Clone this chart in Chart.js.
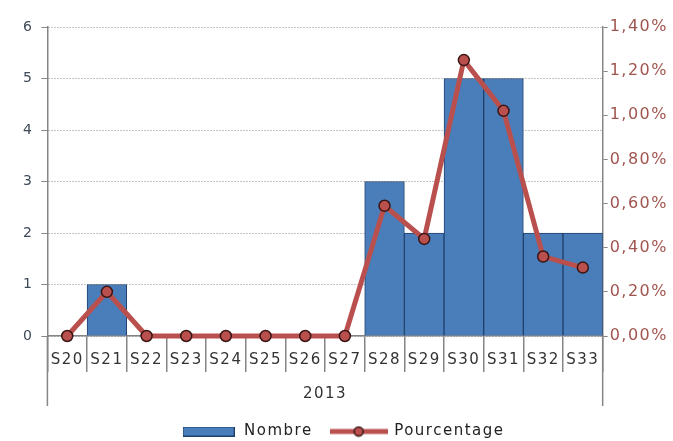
<!DOCTYPE html>
<html>
<head>
<meta charset="utf-8">
<script src="https://cdn.jsdelivr.net/npm/chart.js@4"></script>
<style>
    html, body { margin: 0; padding: 0; background: #fff; }
    #wrap { width: 673px; height: 441px; }
</style>
</head>
<body>
<div id="wrap"><canvas id="weekChart" width="673" height="441"></canvas></div>
<script>
// -------------------- Data --------------------
const weeks = ["S20","S21","S22","S23","S24","S25","S26","S27","S28","S29","S30","S31","S32","S33"];
const nombre = [0, 1, 0, 0, 0, 0, 0, 0, 3, 2, 5, 5, 2, 2];
const pourcentage = [0, 0.20, 0, 0, 0, 0, 0, 0, 0.59, 0.44, 1.25, 1.02, 0.36, 0.31];
const yearLabel = "2013";

// -------------------- Colors --------------------
const barFill = "#4a7ebb";
const barEdge = "#1f416d";
const lineRed = "#b9504d";
const pointEdge = "#3a1515";
const axisGrey = "#858585";
const font = "DejaVu Sans";

// -------------------- Legend swatches --------------------
function barSwatch() {
    const c = document.createElement("canvas");
    c.width = 52; c.height = 10;
    const g = c.getContext("2d");
    g.fillStyle = barFill;
    g.fillRect(0, 0, 52, 10);
    g.strokeStyle = barEdge;
    g.lineWidth = 1;
    g.strokeRect(0.5, 0.5, 51, 9);
    return c;
}

function lineSwatch() {
    const c = document.createElement("canvas");
    c.width = 58; c.height = 12;
    const g = c.getContext("2d");
    g.strokeStyle = lineRed;
    g.lineWidth = 5;
    g.beginPath(); g.moveTo(0, 6); g.lineTo(58, 6); g.stroke();
    g.fillStyle = lineRed;
    g.strokeStyle = pointEdge;
    g.lineWidth = 1.5;
    g.beginPath(); g.arc(29, 6, 4.5, 0, Math.PI * 2); g.fill(); g.stroke();
    return c;
}
const swatches = [barSwatch(), lineSwatch()];

// -------------------- Plugins --------------------
// wider letter spacing on every text drawn into the canvas
const spacing = {
    id: "spacing",
    beforeUpdate(chart) { chart.ctx.letterSpacing = "1.5px"; },
    beforeDraw(chart) { chart.ctx.letterSpacing = "1.5px"; }
};

// left/right axis lines carried down past the category labels
const axisTails = {
    id: "axisTails",
    afterDraw(chart) {
        const {ctx, chartArea, scales} = chart;
        const bottom = scales.x.bottom;
        ctx.save();
        ctx.strokeStyle = axisGrey;
        ctx.lineWidth = 1.5;
        [chartArea.left, chartArea.right].forEach(x => {
            ctx.beginPath();
            ctx.moveTo(x, chartArea.bottom);
            ctx.lineTo(x, bottom);
            ctx.stroke();
        });
        ctx.restore();
    }
};

// -------------------- Chart --------------------
const ctx = document.getElementById("weekChart").getContext("2d");
new Chart(ctx, {
    type: "bar",
    data: {
        labels: weeks,
        datasets: [
            {
                label: "Nombre",
                data: nombre,
                backgroundColor: barFill,
                borderColor: barEdge,
                borderWidth: 1,
                barPercentage: 1,
                categoryPercentage: 1,
                yAxisID: "y",
                order: 1
            },
            {
                type: "line",
                label: "Pourcentage",
                data: pourcentage,
                borderColor: lineRed,
                borderWidth: 5,
                pointRadius: 5.5,
                pointBackgroundColor: lineRed,
                pointBorderColor: pointEdge,
                pointBorderWidth: 1.5,
                tension: 0,
                clip: false,
                yAxisID: "y1",
                order: 0
            }
        ]
    },
    options: {
        responsive: false,
        animation: false,
        layout: { padding: { left: 15, right: 3, top: 27, bottom: -8 } },
        plugins: {
            tooltip: { enabled: false },
            legend: {
                position: "bottom",
                labels: {
                    usePointStyle: true,
                    pointStyleWidth: 56,
                    padding: 18,
                    color: "#222",
                    font: { family: font, size: 15 },
                    generateLabels: chart => chart.data.datasets.map((ds, i) => ({
                        text: ds.label,
                        pointStyle: swatches[i],
                        fillStyle: ds.backgroundColor,
                        strokeStyle: ds.borderColor,
                        lineWidth: 0,
                        fontColor: "#222",
                        datasetIndex: i
                    }))
                }
            }
        },
        scales: {
            x: {
                grid: {
                    offset: true,
                    drawOnChartArea: false,
                    tickLength: 36,
                    color: axisGrey,
                    lineWidth: 1.5
                },
                border: { color: axisGrey, width: 1.5 },
                ticks: {
                    padding: -21,
                    maxRotation: 0,
                    minRotation: 0,
                    autoSkip: false,
                    color: "#333",
                    font: { family: font, size: 15 }
                },
                title: {
                    display: true,
                    text: yearLabel,
                    color: "#333",
                    font: { family: font, size: 15 },
                    padding: { top: 37, bottom: 3 }
                }
            },
            y: {
                position: "left",
                min: 0,
                max: 6,
                ticks: {
                    stepSize: 1,
                    padding: 8,
                    color: "#3e4a58",
                    font: { family: font, size: 14 }
                },
                grid: {
                    color: "#8a8a8a",
                    tickLength: 6,
                    tickColor: axisGrey,
                    tickBorderDash: [],
                    lineWidth: 1
                },
                border: { color: axisGrey, width: 1.5, dash: [1, 2] }
            },
            y1: {
                position: "right",
                min: 0,
                max: 1.4,
                ticks: {
                    stepSize: 0.2,
                    padding: 2,
                    color: "#a0554f",
                    font: { family: font, size: 16 },
                    callback: v => v.toFixed(2).replace(".", ",") + "%"
                },
                grid: {
                    drawOnChartArea: false,
                    tickLength: 5,
                    tickColor: axisGrey
                },
                border: { color: axisGrey, width: 1.5 }
            }
        }
    },
    plugins: [spacing, axisTails]
});
</script>
</body>
</html>
